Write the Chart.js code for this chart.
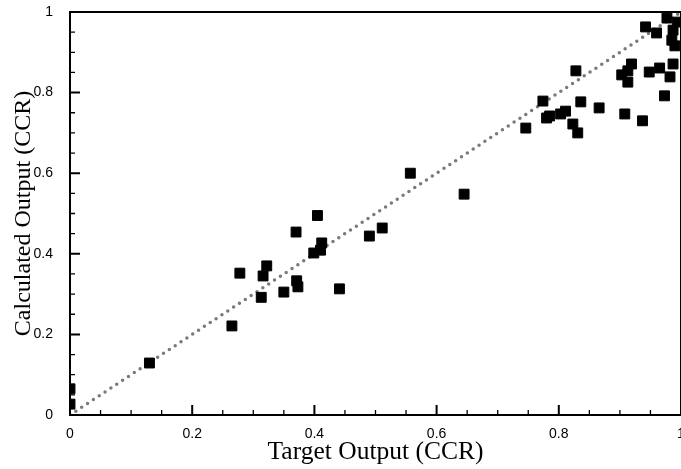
<!DOCTYPE html>
<html>
<head>
<meta charset="utf-8">
<script src="https://cdn.jsdelivr.net/npm/chart.js@4/dist/chart.umd.min.js"></script>
<style>
  html, body { margin: 0; padding: 0; background: #fff; }
  canvas { display: block; }
</style>
</head>
<body>
<canvas id="chart" width="681" height="469"></canvas>
<script>
// Values
const targetOutput = [
    0.0, 0.0, 0.13, 0.265, 0.278, 0.313, 0.316, 0.322, 0.35, 0.37,
    0.371, 0.373, 0.405, 0.399, 0.41, 0.412, 0.441, 0.49, 0.511, 0.557,
    0.645, 0.746, 0.774, 0.78, 0.785, 0.803, 0.811, 0.823, 0.828, 0.831,
    0.836, 0.866, 0.903, 0.908, 0.913, 0.913, 0.919, 0.937, 0.942, 0.948,
    0.96, 0.965, 0.973, 0.977, 0.987, 0.982, 0.987, 0.985, 0.99, 0.994
];
const calculatedOutput = [
    0.065, 0.027, 0.129, 0.221, 0.352, 0.292, 0.345, 0.37, 0.305, 0.454,
    0.333, 0.318, 0.495, 0.402, 0.409, 0.427, 0.313, 0.444, 0.464, 0.6,
    0.548, 0.712, 0.779, 0.737, 0.742, 0.747, 0.754, 0.722, 0.854, 0.7,
    0.777, 0.762, 0.844, 0.747, 0.854, 0.826, 0.871, 0.73, 0.963, 0.851,
    0.948, 0.861, 0.792, 0.985, 0.955, 0.839, 0.871, 0.93, 0.916, 0.975
];
const idealLine = [{ x: 0, y: 0 }, { x: 1, y: 1 }];
const tickValues = [0, 0.2, 0.4, 0.6, 0.8, 1];

// inward major/minor ticks plus the frame, drawn from the scales
const frameTicks = {
    id: 'frameTicks',
    afterDatasetsDraw(chart) {
        const { ctx, chartArea: a, scales: { x, y } } = chart;
        ctx.save();
        ctx.strokeStyle = '#000';
        for (let i = 0; i <= 20; i++) {
            const v = i * 0.05;
            const major = i % 4 === 0;
            const len = major ? 10 : 5;
            ctx.lineWidth = major ? 2 : 1.3;
            const px = x.getPixelForValue(v);
            const py = y.getPixelForValue(v);
            ctx.beginPath();
            ctx.moveTo(px, a.bottom);
            ctx.lineTo(px, a.bottom - len);
            ctx.moveTo(a.left, py);
            ctx.lineTo(a.left + len, py);
            ctx.stroke();
        }
        ctx.lineWidth = 2;
        ctx.strokeRect(a.left, a.top, a.right - a.left, a.bottom - a.top);
        ctx.restore();
    }
};

const tickFont = { family: 'Liberation Sans', size: 14 };

new Chart(document.getElementById('chart'), {
    type: 'scatter',
    data: {
        datasets: [
            {
                label: 'Ideal',
                type: 'line',
                data: idealLine,
                borderColor: '#7a7a7a',
                borderWidth: 3.5,
                borderDash: [0, 7],
                borderCapStyle: 'round',
                pointRadius: 0,
                clip: 0,
                order: 2,
            },
            {
                label: 'CCR',
                data: targetOutput.map((t, i) => ({ x: t, y: calculatedOutput[i] })),
                pointStyle: 'rect',
                pointRadius: 7,
                backgroundColor: '#000',
                borderColor: '#000',
                borderWidth: 1,
                clip: 0,
                order: 1,
            },
        ]
    },
    options: {
        responsive: false,
        animation: false,
        layout: { autoPadding: false, padding: { top: 12, right: -3, left: 0, bottom: 0 } },
        plugins: {
            legend: { display: false },
            tooltip: { enabled: false }
        },
        scales: {
            x: {
                type: 'linear',
                min: 0,
                max: 1,
                afterBuildTicks: s => { s.ticks = tickValues.map(v => ({ value: v })); },
                ticks: { color: '#000', font: tickFont, padding: 3, maxRotation: 0, callback: v => String(v) },
                grid: { display: false },
                border: { display: false },
                title: { display: true, text: 'Target Output (CCR)', color: '#000',
                         font: { family: 'Liberation Serif', size: 25.5 }, padding: { top: 0, bottom: 1 } },
                afterFit: s => { s.height = 54; s.paddingLeft = 0; s.paddingRight = 0; }
            },
            y: {
                type: 'linear',
                min: 0,
                max: 1,
                afterBuildTicks: s => { s.ticks = tickValues.map(v => ({ value: v })); },
                ticks: { color: '#000', font: tickFont, padding: 9, callback: v => String(v) },
                grid: { display: false },
                border: { display: false },
                title: { display: true, text: 'Calculated Output (CCR)', color: '#000',
                         font: { family: 'Liberation Serif', size: 24 }, padding: { top: 9, bottom: 0 } },
                afterFit: s => { s.width = 70; s.paddingTop = 0; s.paddingBottom = 0; }
            }
        }
    },
    plugins: [frameTicks]
});
</script>
</body>
</html>
